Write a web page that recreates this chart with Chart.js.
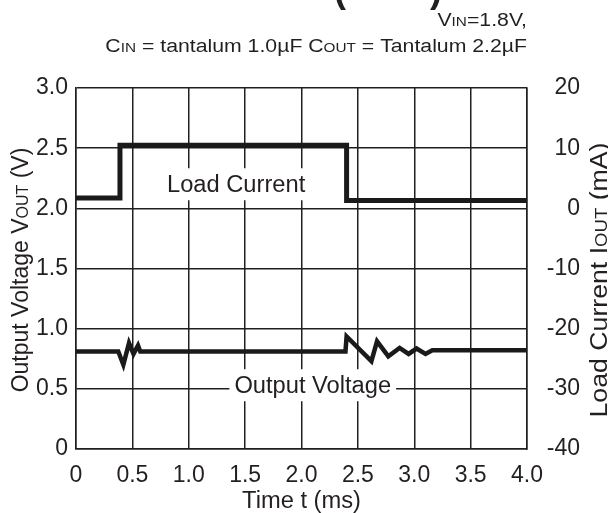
<!DOCTYPE html>
<html>
<head>
<meta charset="utf-8">
<script src="https://cdn.jsdelivr.net/npm/chart.js@4.4.0/dist/chart.umd.min.js"></script>
<style>
html, body { margin: 0; padding: 0; background: #fff; }
</style>
</head>
<body>
<canvas id="chart" width="608" height="513"></canvas>
<script>
// load current step (right axis, mA)
var curTime = [0, 0.39, 0.39, 2.40, 2.40, 4.0];
var curMA = [1.7, 1.7, 10.5, 10.5, 1.3, 1.3];

// output voltage (left axis, V)
var voutTime = [0, 0.375, 0.42, 0.47, 0.51, 0.55, 0.57, 2.39, 2.40, 2.62, 2.67, 2.77, 2.87, 2.95, 3.02, 3.10, 3.16, 4.0];
var voutV = [0.81, 0.81, 0.70, 0.88, 0.79, 0.86, 0.81, 0.81, 0.935, 0.73, 0.895, 0.77, 0.84, 0.79, 0.835, 0.79, 0.82, 0.82];

var xMin = 0, xMax = 4, xStep = 0.5;
var vMin = 0, vMax = 3, vStep = 0.5;
var iMin = -40, iMax = 20, iStep = 10;

var FONT = "'Liberation Sans', Arial, Helvetica, sans-serif";
var INK = '#231f20';

function pts(xs, ys) {
	var out = [];
	for (var i = 0; i < xs.length; i++) out.push({x: xs[i], y: ys[i]});
	return out;
}

function fmt(v) {
	return v === 0 ? '0' : v.toFixed(1);
}

// draws text made of pieces with different font sizes on one baseline
// stretch widens the text horizontally (the source lettering is a bit wide)
function drawParts(ctx, parts, x, y, align, stretch) {
	stretch = stretch || 1;
	var w = 0, widths = [];
	for (var i = 0; i < parts.length; i++) {
		ctx.font = parts[i][1] + 'px ' + FONT;
		widths.push(ctx.measureText(parts[i][0]).width);
		w += widths[i];
	}
	var sx = 0;
	if (align === 'center') sx = -w / 2;
	else if (align === 'right') sx = -w;
	ctx.save();
	ctx.translate(x, y);
	ctx.scale(stretch, 1);
	ctx.textAlign = 'left';
	ctx.textBaseline = 'alphabetic';
	for (var j = 0; j < parts.length; j++) {
		ctx.font = parts[j][1] + 'px ' + FONT;
		ctx.fillText(parts[j][0], sx, 0);
		sx += widths[j];
	}
	ctx.restore();
}

var labelsPlugin = {
	id: 'labels',
	beforeDatasetsDraw: function(chart) {
		var ctx = chart.ctx;
		var xs = chart.scales.x, ys = chart.scales.yV;
		var boxes = [
			{text: 'Load Current', t: 1.42, v: 2.2},
			{text: 'Output Voltage', t: 2.10, v: 0.53}
		];
		ctx.save();
		ctx.font = '23px ' + FONT;
		for (var i = 0; i < boxes.length; i++) {
			var cx = xs.getPixelForValue(boxes[i].t);
			var cy = ys.getPixelForValue(boxes[i].v);
			var w = ctx.measureText(boxes[i].text).width * 1.03;
			ctx.fillStyle = '#fff';
			ctx.fillRect(cx - w / 2 - 5, cy - 16, w + 10, 32);
			ctx.fillStyle = INK;
			drawParts(ctx, [[boxes[i].text, 23]], cx, cy + 8, 'center', 1.03);
		}
		ctx.restore();
	},
	afterDraw: function(chart) {
		var ctx = chart.ctx;
		var a = chart.chartArea;
		ctx.save();
		ctx.fillStyle = INK;

		// cut-off title at the very top
		ctx.font = 'bold 36px ' + FONT;
		ctx.textAlign = 'left';
		ctx.textBaseline = 'alphabetic';
		ctx.fillText('(', 334, 2);
		ctx.fillText(')', 430, 2);

		// conditions
		drawParts(ctx, [['V', 18], ['IN', 13], ['=1.8V,', 18]], a.right, 26, 'right', 1.18);
		drawParts(ctx, [['C', 18], ['IN', 13], [' = tantalum 1.0\u00b5F C', 18], ['OUT', 13], [' = Tantalum 2.2\u00b5F', 18]], a.right, 52, 'right', 1.18);

		// x axis title
		drawParts(ctx, [['Time t (ms)', 23]], (a.left + a.right) / 2, 508, 'center', 1.03);

		// left axis title
		ctx.save();
		ctx.translate(28, 270);
		ctx.rotate(-Math.PI / 2);
		drawParts(ctx, [['Output Voltage V', 23], ['OUT', 16], [' (V)', 23]], 0, 0, 'center');
		ctx.restore();

		// right axis title
		ctx.save();
		ctx.translate(607, 280);
		ctx.rotate(-Math.PI / 2);
		drawParts(ctx, [['Load Current I', 23], ['OUT', 16], [' (mA)', 23]], 0, 0, 'center', 1.16);
		ctx.restore();

		ctx.restore();
	}
};

var ctx = document.getElementById('chart').getContext('2d');
var myChart = new Chart(ctx, {
	type: 'line',
	data: {
		datasets: [{
			label: 'Load Current',
			data: pts(curTime, curMA),
			yAxisID: 'yI',
			borderColor: '#1a1a1a',
			borderWidth: 5,
			borderJoinStyle: 'miter',
			pointRadius: 0,
			tension: 0
		}, {
			label: 'Output Voltage',
			data: pts(voutTime, voutV),
			yAxisID: 'yV',
			borderColor: '#1a1a1a',
			borderWidth: 4.5,
			borderJoinStyle: 'miter',
			pointRadius: 0,
			tension: 0
		}]
	},
	options: {
		responsive: false,
		animation: false,
		devicePixelRatio: 1,
		layout: {padding: {top: 88, right: 28, bottom: 0, left: 0}},
		plugins: {legend: {display: false}, tooltip: {enabled: false}},
		scales: {
			x: {
				type: 'linear',
				min: xMin, max: xMax,
				ticks: {stepSize: xStep, callback: fmt, color: INK, font: {family: FONT, size: 23}, padding: 13, maxRotation: 0, autoSkip: false},
				grid: {color: INK, lineWidth: 1.5, drawTicks: false},
				border: {color: INK, width: 1.5},
				afterFit: function(s) { s.height = 64; }
			},
			yV: {
				position: 'left',
				min: vMin, max: vMax,
				ticks: {stepSize: vStep, callback: fmt, color: INK, font: {family: FONT, size: 23}, padding: 8},
				grid: {color: INK, lineWidth: 1.5, drawTicks: false},
				border: {color: INK, width: 1.5},
				afterFit: function(s) { s.width = 76; }
			},
			yI: {
				position: 'right',
				min: iMin, max: iMax,
				ticks: {stepSize: iStep, color: INK, font: {family: FONT, size: 23}, crossAlign: 'far'},
				grid: {drawOnChartArea: false, drawTicks: false},
				border: {color: INK, width: 1.5},
				afterFit: function(s) { s.width = 53; }
			}
		}
	},
	plugins: [labelsPlugin]
});
</script>
</body>
</html>
